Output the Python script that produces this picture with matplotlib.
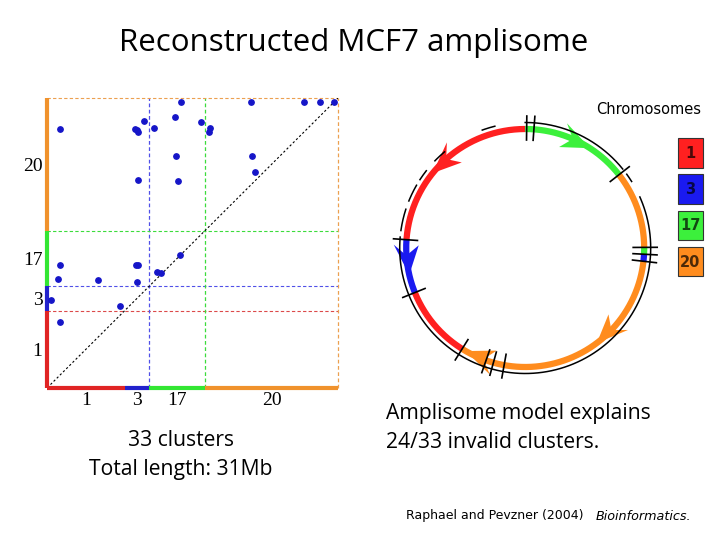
import numpy as np
import matplotlib.pyplot as plt
from matplotlib.patches import Rectangle, Polygon

# chromosome pieces of the amplisome, lengths in Mb
chrom_names = ['1', '3', '17', '20']
chrom_len = [8.3, 2.6, 5.9, 14.2]
axis_colors = ['#e02424', '#2222cc', '#33e633', '#f0922c']
grid_colors = ['#dc4a4a', '#5050e8', '#3cdc3c', '#eca050']
ring_colors = {'1': '#ff2020', '3': '#1a1af0', '17': '#3cf03c', '20': '#ff8c1e'}

# cluster endpoints along the amplisome (Mb)
cluster_x = [1.42, 9.40, 9.57, 9.65, 10.39, 11.42, 14.26, 13.65, 16.38, 17.38,
             17.27, 21.67, 27.38, 29.08, 30.57, 13.72, 21.77, 22.16, 9.68, 14.0,
             1.42, 9.47, 9.65, 14.15, 1.21, 5.43, 9.61, 11.67, 12.16, 0.46,
             7.84, 1.42]
cluster_y = [27.66, 27.66, 27.55, 27.3, 28.48, 27.8, 30.5, 28.9, 28.4, 27.73,
             27.4, 30.5, 30.5, 30.5, 30.5, 24.82, 24.79, 23.12, 22.23, 22.1,
             13.19, 13.19, 13.19, 14.22, 11.63, 11.6, 11.31, 12.41, 12.34, 9.43,
             8.79, 7.06]

# circular reconstruction: arcs (chromosome, start deg, end deg)
ring_chrom = ['1', '17', '20', '17', '3', '20', '1', '3']
ring_start = [90, 38, 0.3, -3, -6.4, -122, -158, 176]
ring_end = [176, 90, 38, 0.3, -3, -6.4, -122, 202]
# arrow heads: chromosome, tip angle, direction (+1 ccw, -1 cw)
arrow_chrom = ['17', '1', '3', '20', '20']
arrow_tip = [57, 141, 193, -53, 240]
arrow_dir = [-1, 1, 1, -1, -1]
# breakpoint marks
mark_angles = [89.3, 85.8, 38, 0.3, -3, -6.4, 176, 202, 238, 250.8, 254.5, 259.8]
# thin outer line pieces
outer_start = [39, 32, 175, 104, 130, 142, 150, 162]
outer_end = [90, 36, 384, 110, 136, 147, 158, 172]

fig = plt.figure(figsize=(7.2, 5.4), dpi=100)

# dot plot of clusters
ax = fig.add_axes([0.0649, 0.2809, 0.405, 0.538])
bounds = np.concatenate([[0], np.cumsum(chrom_len)])
total = bounds[-1]
centers = (bounds[:-1] + bounds[1:]) / 2

for i in range(len(chrom_names)):
    ax.plot([bounds[i], bounds[i + 1]], [0, 0], color=axis_colors[i], lw=3,
            solid_capstyle='butt', clip_on=False, zorder=5)
    ax.plot([0, 0], [bounds[i], bounds[i + 1]], color=axis_colors[i], lw=3,
            solid_capstyle='butt', clip_on=False, zorder=5)
    ax.axhline(bounds[i + 1], color=grid_colors[i], lw=0.8, ls=(0, (3, 2)), clip_on=False)
    if i > 0:
        ax.axvline(bounds[i + 1], color=grid_colors[i], lw=0.9, ls=(0, (3, 2)), clip_on=False)

ax.plot([0.4, total], [0.4, total], color='black', lw=0.8, ls=(0, (2, 2)))
ax.scatter(cluster_x, cluster_y, s=15, color='#1515c8', zorder=6, clip_on=False)

ax.set_xlim(0, total)
ax.set_ylim(0, total)
ax.set_xticks(centers)
ax.set_xticklabels(chrom_names)
ax.set_yticks(centers)
ax.set_yticklabels(chrom_names)
ax.tick_params(length=0, labelsize=14, pad=3)
for lab in ax.get_xticklabels() + ax.get_yticklabels():
    lab.set_fontfamily('Liberation Serif')
for s in ax.spines.values():
    s.set_visible(False)

# circle diagram drawn in pixel coordinates
axc = fig.add_axes([0, 0, 1, 1])
axc.set_xlim(0, 720)
axc.set_ylim(540, 0)
axc.axis('off')
cx, cy, r, r_out = 525.2, 248.0, 119.0, 125.5


def ring_xy(a0, a1, rad):
    t = np.radians(np.linspace(a0, a1, 200))
    return cx + rad * np.cos(t), cy - rad * np.sin(t)


for a0, a1 in zip(outer_start, outer_end):
    x, y = ring_xy(a0, a1, r_out)
    axc.plot(x, y, color='black', lw=1.1)

for c, a0, a1 in zip(ring_chrom, ring_start, ring_end):
    x, y = ring_xy(a0, a1, r)
    axc.plot(x, y, color=ring_colors[c], lw=4.5, solid_capstyle='butt')

L, W = 30.0, 12.5
for c, a, d in zip(arrow_chrom, arrow_tip, arrow_dir):
    t_tip = np.radians(a)
    t_back = t_tip - d * L / r
    t_notch = t_tip - d * 0.65 * L / r
    pts = [
        (cx + r * np.cos(t_tip), cy - r * np.sin(t_tip)),
        (cx + (r + W) * np.cos(t_back), cy - (r + W) * np.sin(t_back)),
        (cx + r * np.cos(t_notch), cy - r * np.sin(t_notch)),
        (cx + (r - W) * np.cos(t_back), cy - (r - W) * np.sin(t_back)),
    ]
    axc.add_patch(Polygon(pts, closed=True, color=ring_colors[c], lw=0))

for a in mark_angles:
    t = np.radians(a)
    axc.plot([cx + 108 * np.cos(t), cx + 132 * np.cos(t)],
             [cy - 108 * np.sin(t), cy - 132 * np.sin(t)], color='black', lw=1.2)

# legend boxes
axc.text(649, 110, 'Chromosomes', ha='center', va='center', fontsize=10.5, family='DejaVu Sans')
for i, name in enumerate(chrom_names):
    y0 = 138.3 + i * 36.1
    axc.add_patch(Rectangle((678.3, y0), 24.4, 29.4, facecolor=ring_colors[name],
                            edgecolor='#333333', lw=0.8))
    axc.text(690.5, y0 + 15.5, name, ha='center', va='center', fontsize=10.5,
             fontweight='bold', color='black', alpha=0.7, family='DejaVu Sans')

# slide text
axc.text(354, 43, 'Reconstructed MCF7 amplisome', ha='center', va='center',
         fontsize=22.5, family='Open Sans')
axc.text(181, 440, '33 clusters', ha='center', va='center', fontsize=15.2, family='Open Sans')
axc.text(181, 469, 'Total length: 31Mb', ha='center', va='center', fontsize=15.2,
         family='Open Sans')
axc.text(386, 414, 'Amplisome model explains', ha='left', va='center', fontsize=15.2,
         family='Open Sans')
axc.text(386, 443, '24/33 invalid clusters.', ha='left', va='center', fontsize=15.2,
         family='Open Sans')
axc.text(406, 516, 'Raphael and Pevzner (2004)', ha='left', va='center', fontsize=9,
         family='DejaVu Sans')
axc.text(596, 516, 'Bioinformatics.', ha='left', va='center', fontsize=9.2,
         family='DejaVu Sans', style='italic')

fig.savefig('out.png', dpi=100)
